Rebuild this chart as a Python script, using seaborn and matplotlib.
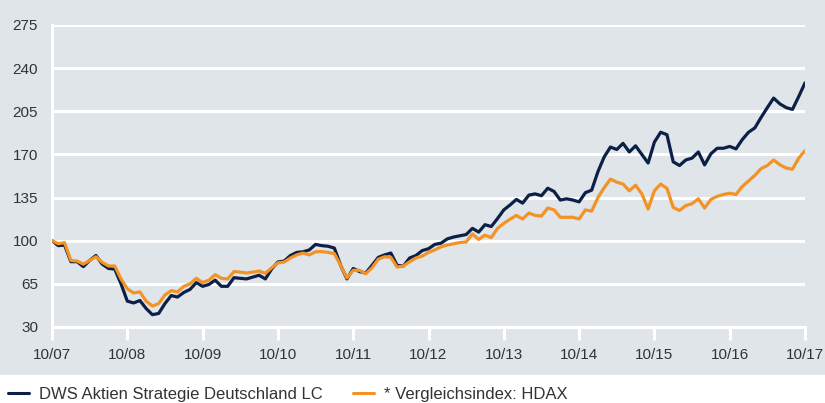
import pandas as pd
import seaborn as sns
import matplotlib.pyplot as plt
from matplotlib.patches import Rectangle

# Monatswerte (indexiert, 10/07 = 100)
dws = [100, 96, 96.5, 83, 83, 79, 84, 88, 81, 77.5, 77, 65,
       51, 49.5, 51.5, 45, 40, 41, 49, 55.5, 54.3, 58, 60.5, 66,
       63, 64.5, 68, 63, 63, 70, 69.5, 69, 70.5, 72, 69, 77,
       82.7, 83.5, 88, 90.5, 91, 92.5, 97, 96, 95.5, 94, 80, 69,
       77.5, 75, 73.8, 80, 86.5, 88.5, 90, 80, 79.5, 86, 88, 92,
       93.5, 97, 98, 101.5, 103, 104, 105, 110, 107, 113, 111.5, 118,
       125, 129, 133.5, 130.5, 137, 138, 136.5, 142.6, 140, 133, 134, 133,
       131.5, 139, 141, 156, 168, 176, 174, 179, 172, 177, 170, 163,
       180, 188, 186, 164, 161, 165.5, 167, 172, 161.5, 170.5, 175, 175,
       176.5, 174.5, 182, 188, 191.5, 200, 208, 215.7, 211, 208, 206.5, 217,
       228]
hdax = [100, 97.5, 98.5, 84, 83.5, 81, 84, 87, 82.5, 79.5, 79.5, 69,
        61, 57.6, 58.5, 51, 47, 49, 56, 59.5, 58.4, 63, 65, 69.5,
        66, 68, 72.5, 69.5, 69, 75, 74.5, 73.8, 74.5, 75.4, 73.5, 78,
        82, 82.7, 86, 88.5, 90, 88.5, 91, 91.2, 90.5, 89.5, 80, 69.8,
        76, 76, 73.2, 78, 85, 87, 86.5, 78.6, 79.5, 83, 86, 87.5,
        90.5, 92.5, 95, 96.5, 97.5, 98.5, 99, 105.5, 101, 104.5, 102.5, 110,
        114, 117.5, 120.5, 117.6, 122.5, 120.5, 120, 126.5, 125, 119, 119, 119,
        117.6, 125, 124, 135, 143, 150, 147.5, 146, 140.5, 145, 138, 125.7,
        140.5, 146, 142.5, 127, 124.5, 128.5, 130, 134, 126.5, 133.5, 136, 137.5,
        138.5, 137.5, 144, 148.4, 153, 158.5, 161, 165.5, 161.6, 159, 158, 167,
        173]
serien = ["DWS Aktien Strategie Deutschland LC", "* Vergleichsindex: HDAX"]
x_labels = ["10/07", "10/08", "10/09", "10/10", "10/11", "10/12",
            "10/13", "10/14", "10/15", "10/16", "10/17"]
y_ticks = [30, 65, 100, 135, 170, 205, 240, 275]

monat = list(range(len(dws)))
df = pd.DataFrame({
    "Monat": monat * 2,
    "Wert": dws + hdax,
    "Serie": [serien[0]] * len(dws) + [serien[1]] * len(hdax),
})

grau = "#dfe5e8"
sns.set_style("white", {"axes.facecolor": grau})
plt.rcParams["font.family"] = ["Liberation Sans", "DejaVu Sans"]

fig = plt.figure(figsize=(8.25, 4.03), dpi=100, facecolor=grau)
# weisser Streifen unten fuer die Legende
fig.patches.append(Rectangle((0, 0), 1, 28 / 403, transform=fig.transFigure,
                             facecolor="white", edgecolor="none", zorder=0.5))
ax = fig.add_axes([52 / 825, 1 - 327 / 403, 753 / 825, 302 / 403])

sns.lineplot(data=df, x="Monat", y="Wert", hue="Serie",
             palette=["#0c1f47", "#f39325"], linewidth=2.3,
             ax=ax, legend=False, zorder=3)

ax.set_xlim(0, 120)
ax.set_ylim(30, 275)
ax.set_yticks(y_ticks)
ax.set_xticks(range(0, 121, 12))
ax.set_xticklabels(x_labels)
ax.set_xlabel("")
ax.set_ylabel("")
ax.grid(axis="y", color="white", linewidth=2.2)
ax.set_axisbelow(True)
for s in ["top", "right"]:
    ax.spines[s].set_visible(False)
for s in ["left", "bottom"]:
    ax.spines[s].set_color("white")
    ax.spines[s].set_linewidth(2.2)
ax.tick_params(axis="x", length=9, width=2.2, color="white", pad=6,
               labelsize=11, labelcolor="#333333", direction="out", bottom=True)
ax.tick_params(axis="y", length=0, pad=10, labelsize=11, labelcolor="#333333")

handles = [plt.Line2D([], [], color="#0c1f47", linewidth=2.2),
           plt.Line2D([], [], color="#f39325", linewidth=2.2)]
fig.legend(handles, serien, loc="center left", bbox_to_anchor=(8 / 825, 9 / 403),
           ncol=2, frameon=False, fontsize=12, handlelength=1.25,
           handletextpad=0.6, columnspacing=1.85, labelcolor="#333333",
           borderaxespad=0.0, borderpad=0.0)

fig.savefig("out.png", dpi=100, facecolor=grau)
